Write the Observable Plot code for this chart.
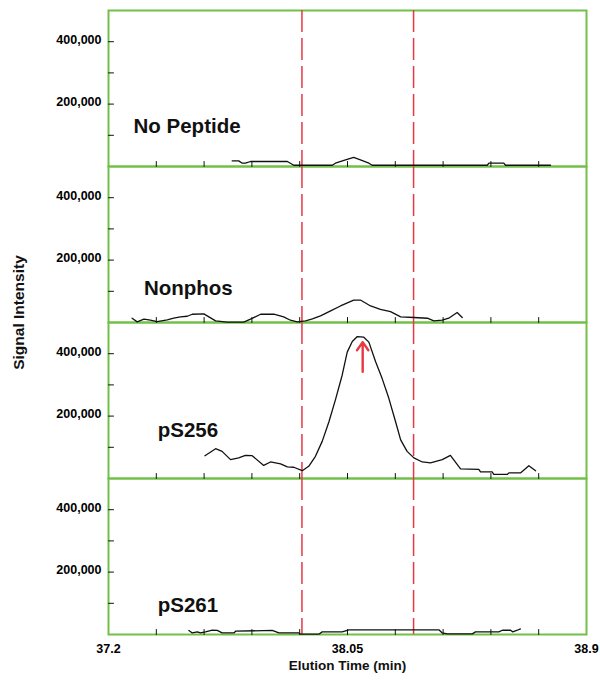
<!DOCTYPE html>
<html>
<head>
<meta charset="utf-8">
<script src="https://cdn.jsdelivr.net/npm/d3@7"></script>
<script src="https://cdn.jsdelivr.net/npm/@observablehq/plot@0.6"></script>
<style>
  html, body { margin: 0; padding: 0; background: #fff; }
</style>
</head>
<body>
<div id="chart"></div>
<script>
// ---- Data ----
const panels = ["No Peptide", "Nonphos", "pS256", "pS261"];

const noPeptideTime   = [37.640, 37.663, 37.676, 37.687, 37.705, 37.836, 37.859, 37.883, 37.996, 38.007, 38.043, 38.072, 38.096, 38.126, 38.138, 38.547, 38.553, 38.606, 38.612, 38.772];
const noPeptideSignal = [18000, 18000, 10600, 10600, 16000, 16000, 4000, 4000, 4000, 10600, 21000, 29000, 21000, 10600, 4000, 4000, 10600, 10600, 4000, 4000];

const nonphosTime   = [37.284, 37.302, 37.326, 37.349, 37.373, 37.409, 37.432, 37.456, 37.480, 37.498, 37.539, 37.557, 37.581, 37.622, 37.681, 37.705, 37.741, 37.788, 37.823, 37.847, 37.871, 37.901, 37.925, 37.954, 37.990, 38.025, 38.072, 38.096, 38.132, 38.167, 38.203, 38.239, 38.286, 38.334, 38.357, 38.387, 38.410, 38.440, 38.458];
const nonphosSignal = [13700, 2000, 10600, 7300, 3000, 8500, 13700, 18000, 20000, 26500, 27600, 18000, 5300, 1000, 1000, 10600, 26500, 26500, 18000, 7300, 2000, 5300, 11700, 21000, 37000, 53000, 72000, 72000, 53000, 42000, 35000, 18000, 16000, 13700, 5300, 7300, 13700, 32000, 16000];

const pS256Time   = [37.543, 37.581, 37.604, 37.634, 37.663, 37.687, 37.711, 37.752, 37.776, 37.812, 37.836, 37.859, 37.889, 37.912, 37.936, 37.960, 37.984, 38.007, 38.031, 38.049, 38.067, 38.085, 38.108, 38.126, 38.150, 38.173, 38.197, 38.221, 38.239, 38.262, 38.286, 38.316, 38.345, 38.387, 38.416, 38.452, 38.517, 38.523, 38.565, 38.570, 38.618, 38.624, 38.665, 38.695, 38.719];
const pS256Signal = [73000, 95500, 87000, 60500, 66000, 74000, 73000, 42000, 53000, 47000, 37000, 36000, 25000, 39000, 71000, 119000, 182000, 252000, 331000, 405000, 439000, 455000, 453000, 437000, 374000, 321000, 257000, 182000, 124000, 87000, 66000, 53000, 50000, 60500, 74000, 31000, 29000, 21000, 21000, 13000, 13000, 18000, 18000, 41000, 25000];

const pS261Time   = [37.486, 37.498, 37.516, 37.527, 37.545, 37.569, 37.587, 37.604, 37.646, 37.652, 37.782, 37.806, 37.877, 37.883, 37.948, 37.960, 38.031, 38.055, 38.375, 38.387, 38.405, 38.494, 38.505, 38.588, 38.601, 38.630, 38.638, 38.654, 38.665];
const pS261Signal = [13000, 5000, 8500, 5000, 8500, 13700, 13000, 5000, 5000, 10600, 13000, 5000, 5000, 1000, 1000, 8500, 8500, 15000, 15000, 5000, 2000, 2000, 8500, 8500, 13700, 13700, 8500, 13700, 18000];

const labelTime   = [37.289, 37.326, 37.375, 37.375];
const labelSignal = [129000, 108600, 153000, 94600];

const windowTimes = [37.888, 38.285];          // red dashed lines
const arrowTime = 38.104, arrowFrom = 342000, arrowTo = 437000;

const xMinorTicks = [37.37, 37.54, 37.71, 37.88, 38.05, 38.22, 38.39, 38.56, 38.73];
const xTickLabels = [37.2, 38.05, 38.9];
const yMinorTicks = [100000, 200000, 300000, 400000];
const yTickLabels = [200000, 400000];

// ---- Build tidy table ----
const series = [
  [panels[0], noPeptideTime, noPeptideSignal],
  [panels[1], nonphosTime, nonphosSignal],
  [panels[2], pS256Time, pS256Signal],
  [panels[3], pS261Time, pS261Signal]
];
const traces = series.flatMap(([p, ts, ss]) => ts.map((t, i) => ({panel: p, t, s: ss[i]})));
const labels = panels.map((p, i) => ({panel: p, t: labelTime[i], s: labelSignal[i]}));

const green = "#72c04a";
const red = "#e53a44";
const tickShapeUp = {draw(ctx, l) { ctx.moveTo(0, 0); ctx.lineTo(0, -l); }};

const chart = Plot.plot({
  width: 600,
  height: 680,
  marginLeft: 108,
  marginRight: 14,
  marginTop: 8,
  marginBottom: 45,
  style: {fontFamily: "'Liberation Sans', Arial, Helvetica, sans-serif", background: "#fff"},
  x: {domain: [37.2, 38.9]},
  y: {domain: [0, 500000]},
  fy: {domain: panels, padding: 0, axis: null},
  marks: [
    Plot.frame({stroke: green, strokeWidth: 2}),
    Plot.vector(xMinorTicks, {x: d => d, frameAnchor: "bottom", length: 5, rotate: 0, anchor: "start", shape: tickShapeUp, stroke: "#111", strokeWidth: 1}),
    Plot.vector(yMinorTicks, {y: d => d, frameAnchor: "left", length: 5, rotate: 90, anchor: "start", shape: tickShapeUp, stroke: "#111", strokeWidth: 1}),
    Plot.axisY({ticks: yTickLabels, tickSize: 0, tickPadding: 7, tickFormat: d3.format(","), label: null, fontWeight: "bold", fontSize: 12.5, dy: -2}),
    Plot.axisX({ticks: xTickLabels, tickSize: 0, tickPadding: 10, tickFormat: d => `${d}`, label: null, fontWeight: "bold", fontSize: 12.5}),
    Plot.ruleX(windowTimes, {stroke: red, strokeWidth: 1.5, strokeDasharray: "22,6"}),
    Plot.line(traces, {x: "t", y: "s", fy: "panel", stroke: "#111", strokeWidth: 1.3}),
    Plot.text(labels, {x: "t", y: "s", fy: "panel", text: "panel", textAnchor: "start", fontSize: 20.5, fontWeight: "bold", fill: "#111"}),
    Plot.arrow([{panel: "pS256"}], {x1: () => arrowTime, x2: () => arrowTime, y1: () => arrowFrom, y2: () => arrowTo, fy: "panel", stroke: red, strokeWidth: 2.4, headLength: 9, headAngle: 70}),
    Plot.text(["Elution Time (min)"], {fy: () => "pS261", frameAnchor: "bottom", dy: 35, fontSize: 13.5, fontWeight: "bold", fill: "#111"}),
    Plot.text(["Signal Intensity"], {fy: () => "Nonphos", frameAnchor: "bottom-left", dx: -85, dy: -10, rotate: -90, textAnchor: "middle", fontSize: 15.5, fontWeight: "bold", fill: "#111"})
  ]
});
document.getElementById("chart").appendChild(chart);
</script>
</body>
</html>
